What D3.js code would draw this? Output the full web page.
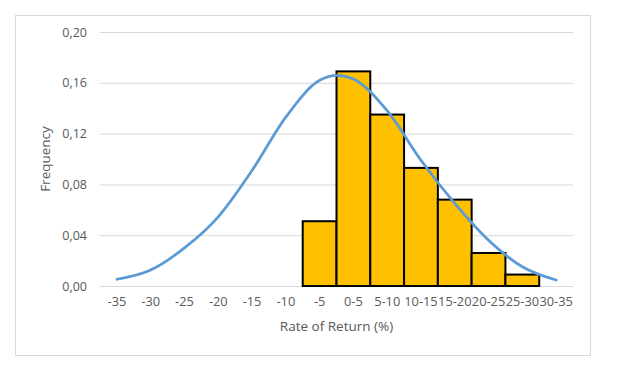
<!DOCTYPE html>
<html>
<head>
<meta charset="utf-8">
<script src="https://cdn.jsdelivr.net/npm/d3@7"></script>
<style>
  body { margin: 0; background: #fff; }
  svg text { font-family: 'Open Sans', sans-serif; fill: #595959; }
</style>
</head>
<body>
<svg id="chart" width="624" height="371"></svg>
<script>
// categories (bins) along the x axis
const categories = ['-35', '-30', '-25', '-20', '-15', '-10', '-5', '0-5', '5-10',
  '10-15', '15-20', '20-25', '25-30', '30-35'];
// histogram frequencies (null = no bar)
const frequency = [null, null, null, null, null, null, 0.051, 0.169, 0.135,
  0.093, 0.068, 0.026, 0.009, null];
// fitted normal curve values at each category
const normalCurve = [0.0053, 0.0126, 0.030, 0.0545, 0.091, 0.133, 0.162, 0.163,
  0.138, 0.099, 0.065, 0.036, 0.0152, 0.0047];
const yTicks = [0, 0.04, 0.08, 0.12, 0.16, 0.20];

const svg = d3.select('#chart');
const margin = { top: 32, right: 51, bottom: 85, left: 100 };
const width = 624 - margin.left - margin.right;
const height = 371 - margin.top - margin.bottom;

// chart frame
svg.append('rect')
  .attr('x', 15.5).attr('y', 15.5)
  .attr('width', 575).attr('height', 340)
  .attr('fill', '#fff')
  .attr('stroke', '#d9d9d9');

const g = svg.append('g')
  .attr('transform', 'translate(' + margin.left + ',' + margin.top + ')');

const x = d3.scaleBand().domain(categories).range([0, width]).padding(0);
const y = d3.scaleLinear().domain([0, 0.2]).range([height, 0]);

// grid lines + y labels
const yAxis = g.append('g')
  .call(d3.axisLeft(y).tickValues(yTicks)
    .tickSize(-width).tickPadding(13)
    .tickFormat(d => d3.format('.2f')(d).replace('.', ',')));
yAxis.select('.domain').remove();
yAxis.selectAll('line').attr('stroke', '#d9d9d9');
yAxis.selectAll('text').attr('font-size', 12.5).attr('fill', '#595959');

// x labels
const xAxis = g.append('g')
  .attr('transform', 'translate(0,' + height + ')')
  .call(d3.axisBottom(x).tickSize(0).tickPadding(11));
xAxis.select('.domain').attr('stroke', '#d9d9d9');
xAxis.selectAll('text').attr('font-size', 12.8).attr('fill', '#595959');

// bars
g.selectAll('.bar')
  .data(categories.map((c, i) => ({ c: c, v: frequency[i] })).filter(d => d.v != null))
  .enter().append('rect')
  .attr('class', 'bar')
  .attr('x', d => x(d.c))
  .attr('y', d => y(d.v))
  .attr('width', x.bandwidth())
  .attr('height', d => height - y(d.v))
  .attr('fill', '#ffc000')
  .attr('stroke', '#000')
  .attr('stroke-width', 2);

// normal curve
const line = d3.line()
  .x((d, i) => x(categories[i]) + x.bandwidth() / 2)
  .y(d => y(d))
  .curve(d3.curveCardinal.tension(0));

g.append('path')
  .datum(normalCurve)
  .attr('fill', 'none')
  .attr('stroke', '#5b9bd5')
  .attr('stroke-width', 2.75)
  .attr('stroke-linecap', 'round')
  .attr('d', line);

// axis titles
svg.append('text')
  .attr('x', margin.left + width / 2)
  .attr('y', 331)
  .attr('text-anchor', 'middle')
  .attr('font-size', 13.5)
  .text('Rate of Return (%)');

svg.append('text')
  .attr('transform', 'translate(50,' + (margin.top + height / 2) + ') rotate(-90)')
  .attr('text-anchor', 'middle')
  .attr('font-size', 13.5)
  .text('Frequency');
</script>
</body>
</html>
